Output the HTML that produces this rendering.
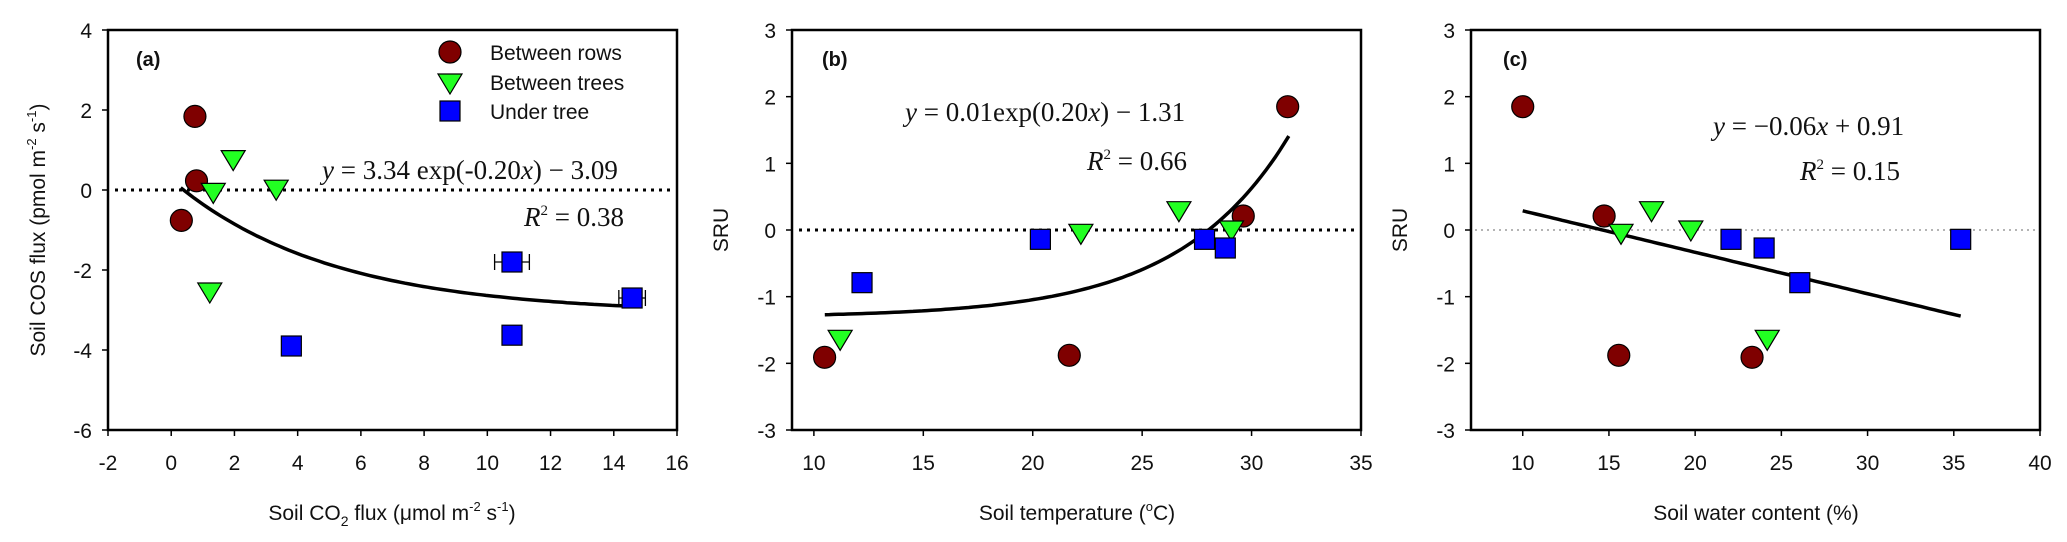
<!DOCTYPE html>
<html><head><meta charset="utf-8"><style>
html,body{margin:0;padding:0;background:#fff;}
svg{display:block;font-family:"Liberation Sans",Arial,sans-serif;}
.eq{font-family:"Liberation Serif","Times New Roman",serif;font-size:27px;fill:#111;}
</style></head><body>
<svg id="chart" width="2067" height="542" viewBox="0 0 2067 542" xmlns="http://www.w3.org/2000/svg"></svg>
<script>
// Panel (a) data
const aRowsX=[0.75,0.8,0.32];
const aRowsY=[1.84,0.23,-0.76];
const aTreesX=[1.96,1.33,3.32,1.22];
const aTreesY=[0.76,-0.06,0.02,-2.55];
const aUnderX=[3.8,10.78,10.78,14.58];
const aUnderY=[-3.9,-1.8,-3.63,-2.7];
const aUnderErr=[0,0.55,0,0.42];
const aXTicks=[-2,0,2,4,6,8,10,12,14,16];
const aYTicks=[-6,-4,-2,0,2,4];
// Panel (b) data
const bRowsX=[10.49,21.67,29.62,31.65];
const bRowsY=[-1.91,-1.88,0.21,1.85];
const bTreesX=[11.2,22.2,26.68,29.08];
const bTreesY=[-1.64,-0.05,0.29,0.0];
const bUnderX=[12.2,20.35,27.85,28.8];
const bUnderY=[-0.79,-0.14,-0.14,-0.27];
const bXTicks=[10,15,20,25,30,35];
const sruTicks=[-3,-2,-1,0,1,2,3];
// Panel (c) data
const cRowsX=[10,14.72,15.57,23.3];
const cRowsY=[1.85,0.21,-1.88,-1.91];
const cTreesX=[17.47,15.7,19.75,24.18];
const cTreesY=[0.29,-0.05,0.0,-1.64];
const cUnderX=[22.08,24.0,26.07,35.4];
const cUnderY=[-0.14,-0.27,-0.79,-0.14];
const cXTicks=[10,15,20,25,30,35,40];

const NS="http://www.w3.org/2000/svg";
const svg=document.getElementById('chart');
function mk(tag,attrs,parent){const e=document.createElementNS(NS,tag);for(const k in attrs)e.setAttribute(k,attrs[k]);(parent||svg).appendChild(e);return e;}
function txt(s,attrs,parent){const e=mk('text',attrs,parent);e.textContent=s;return e;}

function panel(cfg){
  const g=mk('g',{});
  
  
  const sx=v=>cfg.x0+(v-cfg.xmin)/(cfg.xmax-cfg.xmin)*(cfg.x1-cfg.x0);
  const sy=v=>cfg.y1-(v-cfg.ymin)/(cfg.ymax-cfg.ymin)*(cfg.y1-cfg.y0);
  // frame
  const fr=mk('rect',{x:cfg.x0,y:cfg.y0,width:cfg.x1-cfg.x0,height:cfg.y1-cfg.y0,fill:'none',stroke:'#000','stroke-width':2.5},g);
  
  
  // x ticks
  cfg.xt.forEach(t=>{
    const x=sx(t);
    mk('line',{x1:x,y1:cfg.y1,x2:x,y2:cfg.y1+6,stroke:'#000','stroke-width':1.5},g);
    const l=txt(String(t),{x:x,y:cfg.y1+40,'text-anchor':'middle','font-size':21,fill:'#111'},g);
    
    
  });
  cfg.yt.forEach(t=>{
    const y=sy(t);
    mk('line',{x1:cfg.x0-6,y1:y,x2:cfg.x0,y2:y,stroke:'#000','stroke-width':1.5},g);
    const l=txt(String(t),{x:cfg.x0-16,y:y+8,'text-anchor':'end','font-size':21,fill:'#111'},g);
    
    
  });
  // zero line
  const z=mk('line',{x1:cfg.zx0,y1:sy(0),x2:cfg.x1-2,y2:sy(0),stroke:cfg.zthin?'#888':'#000','stroke-width':cfg.zthin?1.2:3,'stroke-dasharray':cfg.zthin?'2 4':'3 5'},g);
  
  
  // fit curve
  let d='';
  for(let i=0;i<=100;i++){const xv=cfg.fa+(cfg.fb-cfg.fa)*i/100;d+=(i?'L':'M')+sx(xv).toFixed(1)+','+sy(cfg.f(xv)).toFixed(1);}
  const fc=mk('path',{d:d,fill:'none',stroke:'#000','stroke-width':3.5},g);
  
  
  // markers
  cfg.rx.forEach((v,i)=>{
    const c=mk('ellipse',{cx:sx(v),cy:sy(cfg.ry[i]),rx:11,ry:11,fill:'#7f0000',stroke:'#000','stroke-width':1.2},g);
    
    
  });
  cfg.tx.forEach((v,i)=>{
    const x=sx(v),y=sy(cfg.ty[i]);
    const p=mk('polygon',{points:`${x-12},${y-9} ${x+12},${y-9} ${x},${y+11}`,fill:'#22ff22',stroke:'#000','stroke-width':1.2},g);
    
    
  });
  cfg.ux.forEach((v,i)=>{
    const x=sx(v),y=sy(cfg.uy[i]);
    if(cfg.ue&&cfg.ue[i]){
      const e=cfg.ue[i],xa=sx(v-e),xb=sx(v+e);
      const eb=mk('path',{d:`M${xa},${y}L${xb},${y}M${xa},${y-8}L${xa},${y+8}M${xb},${y-8}L${xb},${y+8}`,stroke:'#000','stroke-width':1.3,fill:'none'},g);
      
      
    }
    const r=mk('rect',{x:x-10,y:y-10,width:20,height:20,fill:'#0000ff',stroke:'#000','stroke-width':1.2},g);
    
    
  });
  // panel label
  const pl=txt(cfg.label,{x:cfg.lx,y:66,'font-size':20,'font-weight':'bold',fill:'#111'},g);
  
  
  return g;
}

panel({name:'panel-a',x0:108,x1:677,y0:30,y1:430,xmin:-2,xmax:16,ymin:-6,ymax:4,xt:aXTicks,yt:aYTicks,zx0:115,
  f:x=>3.34*Math.exp(-0.2*x)-3.09,fa:0.3,fb:14.5,rx:aRowsX,ry:aRowsY,tx:aTreesX,ty:aTreesY,ux:aUnderX,uy:aUnderY,ue:aUnderErr,label:'(a)',lx:136});
panel({name:'panel-b',x0:792,x1:1361,y0:30,y1:430,xmin:9,xmax:35,ymin:-3,ymax:3,xt:bXTicks,yt:sruTicks,zx0:799,
  f:x=>0.00495*Math.exp(0.199*x)-1.31,fa:10.5,fb:31.7,rx:bRowsX,ry:bRowsY,tx:bTreesX,ty:bTreesY,ux:bUnderX,uy:bUnderY,label:'(b)',lx:822});
panel({name:'panel-c',x0:1471,x1:2040,y0:30,y1:430,xmin:7,xmax:40,ymin:-3,ymax:3,xt:cXTicks,yt:sruTicks,zx0:1475,zthin:true,
  f:x=>-0.0622*x+0.91,fa:10,fb:35.4,rx:cRowsX,ry:cRowsY,tx:cTreesX,ty:cTreesY,ux:cUnderX,uy:cUnderY,label:'(c)',lx:1503});
</script>
<svg width="0" height="0" style="position:absolute"></svg>
<script>
(function(){
const svg=document.getElementById('chart');
const NS="http://www.w3.org/2000/svg";
function add(html){const g=document.createElementNS(NS,'g');g.innerHTML=html;svg.appendChild(g);return g;}
const lg=add(`
<ellipse cx="450" cy="52" rx="11" ry="11" fill="#7f0000" stroke="#000" stroke-width="1.2"/>
<polygon points="438,74 462,74 450,94" fill="#22ff22" stroke="#000" stroke-width="1.2"/>
<rect x="440" y="101" width="20" height="20" fill="#0000ff" stroke="#000" stroke-width="1.2"/>
<text x="490" y="60" font-size="21" fill="#111">Between rows</text>
<text x="490" y="90" font-size="21" fill="#111">Between trees</text>
<text x="490" y="119" font-size="21" fill="#111">Under tree</text>`);


const eq=add(`
<text class="eq" x="322" y="179"><tspan font-style="italic">y</tspan> = 3.34 exp(-0.20<tspan font-style="italic">x</tspan>) − 3.09</text>
<text class="eq" x="524" y="226"><tspan font-style="italic">R</tspan><tspan font-size="15" dy="-11">2</tspan><tspan dy="11"> = 0.38</tspan></text>
<text class="eq" x="905" y="121"><tspan font-style="italic">y</tspan> = 0.01exp(0.20<tspan font-style="italic">x</tspan>) − 1.31</text>
<text class="eq" x="1087" y="170"><tspan font-style="italic">R</tspan><tspan font-size="15" dy="-11">2</tspan><tspan dy="11"> = 0.66</tspan></text>
<text class="eq" x="1713" y="135"><tspan font-style="italic">y</tspan> = −0.06<tspan font-style="italic">x</tspan> + 0.91</text>
<text class="eq" x="1800" y="180"><tspan font-style="italic">R</tspan><tspan font-size="15" dy="-11">2</tspan><tspan dy="11"> = 0.15</tspan></text>`);


const ax=add(`
<text x="392" y="520" text-anchor="middle" font-size="21" fill="#111">Soil CO<tspan font-size="14" dy="6">2</tspan><tspan dy="-6"> flux (μmol m</tspan><tspan font-size="13" dy="-9">-2</tspan><tspan dy="9"> s</tspan><tspan font-size="13" dy="-9">-1</tspan><tspan dy="9">)</tspan></text>
<text x="1077" y="520" text-anchor="middle" font-size="21" fill="#111">Soil temperature (<tspan font-size="13" dy="-9">o</tspan><tspan dy="9">C)</tspan></text>
<text x="1756" y="520" text-anchor="middle" font-size="21" fill="#111">Soil water content (%)</text>
<text transform="translate(45,230) rotate(-90)" text-anchor="middle" font-size="21" fill="#111">Soil COS flux (pmol m<tspan font-size="13" dy="-9">-2</tspan><tspan dy="9"> s</tspan><tspan font-size="13" dy="-9">-1</tspan><tspan dy="9">)</tspan></text>
<text transform="translate(728,230) rotate(-90)" text-anchor="middle" font-size="21" fill="#111">SRU</text>
<text transform="translate(1407,230) rotate(-90)" text-anchor="middle" font-size="21" fill="#111">SRU</text>`);


})();
</script>
</body></html>
